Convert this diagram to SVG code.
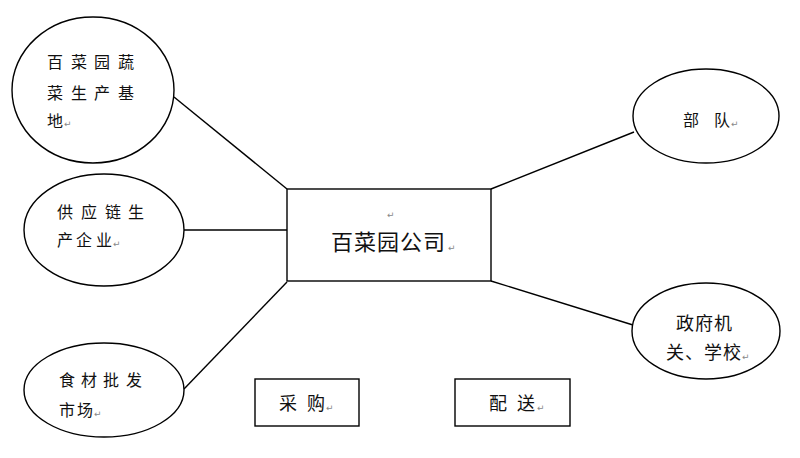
<svg xmlns="http://www.w3.org/2000/svg" width="800" height="458" viewBox="0 0 800 458">
<style>
.shape{fill:#fff;stroke:#000;stroke-width:1.4}
.conn{stroke:#000;stroke-width:1.4;fill:none}
.t{font-family:"Noto Sans CJK SC","Noto Sans",sans-serif;fill:#111}
.m{font-family:"DejaVu Sans",sans-serif;font-size:9px;fill:#888}
</style>
<rect width="800" height="458" fill="#fff"/>
<g id="connectors">
<line class="conn" x1="174" y1="97" x2="287" y2="189"/>
<line class="conn" x1="184" y1="230" x2="287" y2="230"/>
<line class="conn" x1="184" y1="389" x2="287" y2="282"/>
<line class="conn" x1="491" y1="189" x2="634" y2="132"/>
<line class="conn" x1="491" y1="281" x2="633" y2="325"/>
</g>
<g id="node-base">
<ellipse class="shape" cx="93" cy="90" rx="81" ry="73"/>
<text class="t" font-size="16"><tspan x="47 71 94 118" y="68">百菜园蔬</tspan><tspan x="47 71 94 118" y="99">菜生产基</tspan><tspan x="47" y="127">地</tspan></text>
<text class="m" x="64" y="127">↵</text>
</g>
<g id="node-supply">
<ellipse class="shape" cx="104" cy="230" rx="80" ry="56"/>
<text class="t" font-size="16"><tspan x="57 81 105 128" y="218">供应链生</tspan><tspan x="57 76 96" y="246">产企业</tspan></text>
<text class="m" x="113" y="247">↵</text>
</g>
<g id="node-market">
<ellipse class="shape" cx="104" cy="390" rx="80" ry="47"/>
<text class="t" font-size="16"><tspan x="59 81 103 126" y="386">食材批发</tspan><tspan x="59 77" y="416">市场</tspan></text>
<text class="m" x="94" y="417">↵</text>
</g>
<g id="node-company">
<rect class="shape" x="287" y="189" width="204" height="92"/>
<text class="m" x="387" y="218">↵</text>
<text class="t" font-size="22" x="331" y="250" letter-spacing="1">百菜园公司</text>
<text class="m" x="448" y="251">↵</text>
</g>
<g id="node-army">
<ellipse class="shape" cx="706" cy="116" rx="73" ry="47"/>
<text class="t" font-size="16"><tspan x="683 714" y="126">部队</tspan></text>
<text class="m" x="731" y="127">↵</text>
</g>
<g id="node-gov">
<ellipse class="shape" cx="706" cy="331" rx="74" ry="48"/>
<text class="t" font-size="18"><tspan x="676 695 714" y="330">政府机</tspan><tspan x="666 685 704 723" y="359">关、学校</tspan></text>
<text class="m" x="742" y="360">↵</text>
</g>
<g id="node-purchase">
<rect class="shape" x="255" y="379" width="104" height="47"/>
<text class="t" font-size="18"><tspan x="279 307" y="410">采购</tspan></text>
<text class="m" x="326" y="411">↵</text>
</g>
<g id="node-delivery">
<rect class="shape" x="455" y="379" width="115" height="47"/>
<text class="t" font-size="18"><tspan x="489 517" y="410">配送</tspan></text>
<text class="m" x="537" y="411">↵</text>
</g>
</svg>
